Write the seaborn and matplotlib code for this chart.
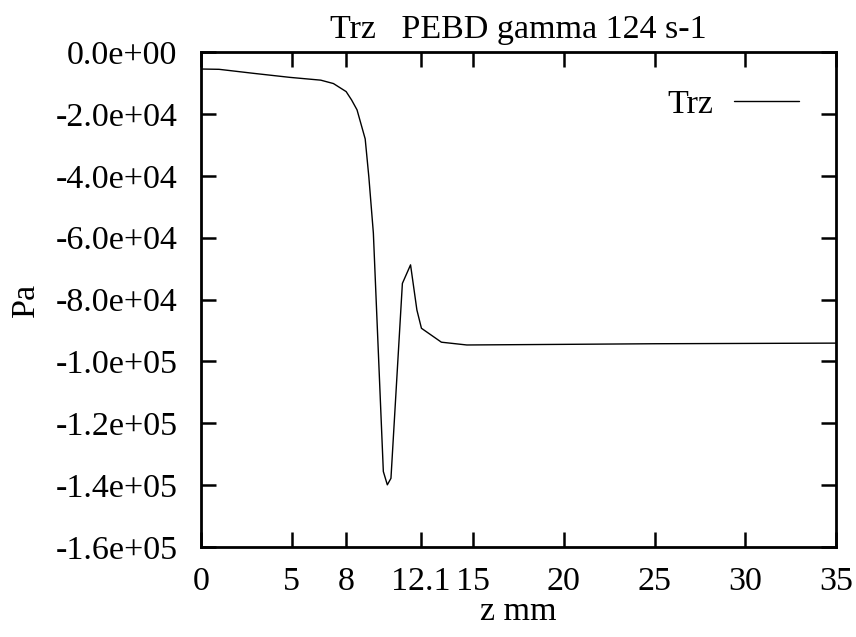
import numpy as np
import pandas as pd
import seaborn as sns
import matplotlib.pyplot as plt
from matplotlib.ticker import FormatStrFormatter

# Trz profile (z in mm, Trz in Pa)
z = [0.0, 1.0, 2.9, 4.9, 6.6, 7.3, 8.0, 8.3, 8.6, 9.05, 9.25, 9.5,
     10.05, 10.27, 10.47, 11.1, 11.55, 11.9, 12.15, 13.25, 14.65, 20.0, 25.0, 30.0, 35.0]
trz = [-5500, -5600, -6900, -8200, -9100, -10200, -12800, -15500, -18700, -28100, -40300, -58500,
       -135600, -139900, -137800, -74800, -68800, -83400, -89300, -93800, -94700, -94500, -94300, -94200, -94100]

x_ticks = [0, 5, 8, 12.1, 15, 20, 25, 30, 35]
x_tick_labels = ['0', '5', '8', '12.1', '15', '20', '25', '30', '35']
y_ticks = np.arange(-160000, 1, 20000)

data = pd.DataFrame({'z': z, 'Trz': trz})

sns.set_style("ticks")
plt.rcParams['font.family'] = ['Liberation Serif', 'DejaVu Serif']
plt.rcParams['text.color'] = 'black'
plt.rcParams['axes.labelcolor'] = 'black'

fig = plt.figure(figsize=(8.56, 6.37), dpi=100)
ax = fig.add_axes([201 / 856, 1 - 547 / 637, 635 / 856, 495 / 637])

sns.lineplot(data=data, x='z', y='Trz', color='black', linewidth=1.0, label='Trz', ax=ax)

ax.set_xlim(0, 35)
ax.set_ylim(-160000, 0)
ax.set_xticks(x_ticks)
ax.set_xticklabels(x_tick_labels)
ax.set_yticks(y_ticks)
ax.yaxis.set_major_formatter(FormatStrFormatter('%.1e'))

ax.tick_params(direction='in', length=11, width=1.8, labelsize=24.5, pad=14,
               top=True, right=True, colors='black')
ax.tick_params(axis='y', pad=17)
for sp in ax.spines.values():
    sp.set_linewidth(2)
    sp.set_color('black')

ax.set_title('Trz   PEBD gamma 124 s-1', fontsize=24.5, pad=10, color='black')
ax.set_xlabel('z mm', fontsize=24.5, labelpad=0)
ax.set_ylabel('Pa', fontsize=24.5, labelpad=10)

ax.legend(loc='upper right', frameon=False, fontsize=24.5, markerfirst=False,
          handlelength=1.9, handletextpad=0.6, borderaxespad=0.7)

fig.savefig('out.png', dpi=100)
